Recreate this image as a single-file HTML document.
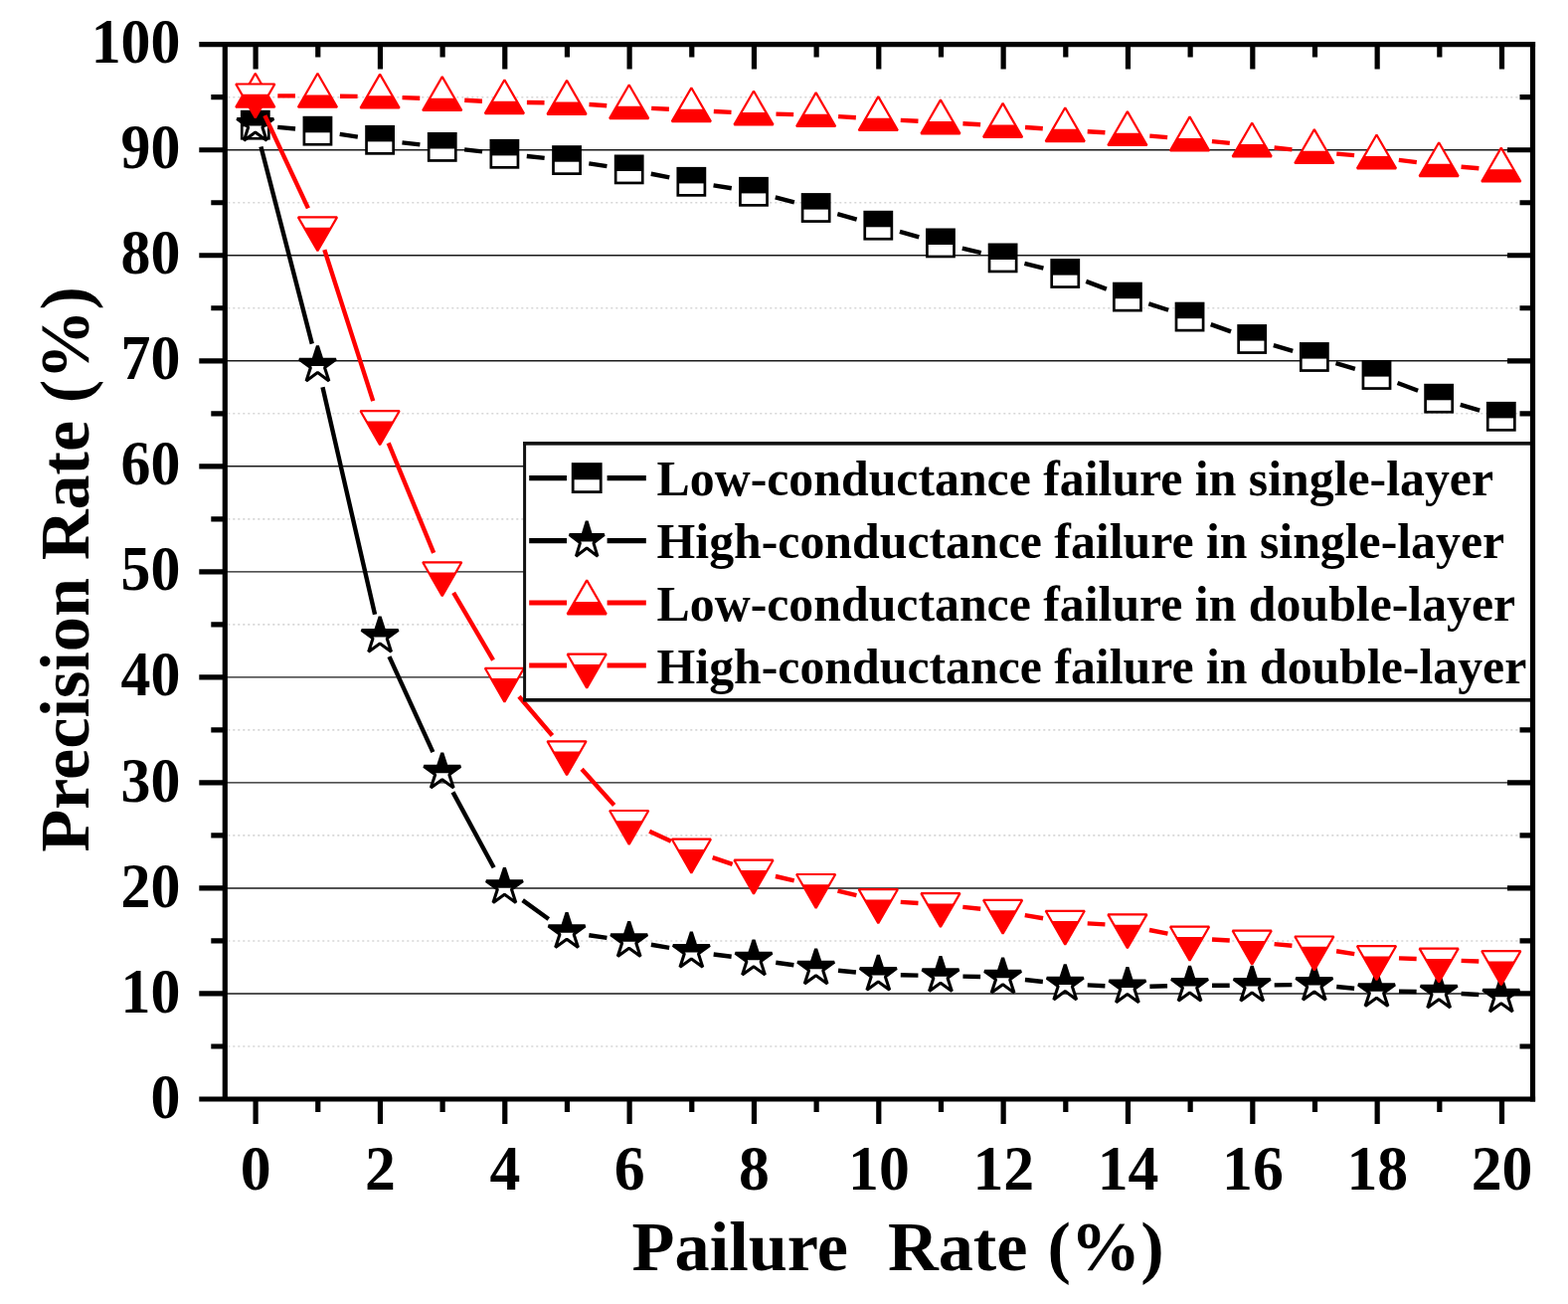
<!DOCTYPE html>
<html lang="en"><head><meta charset="utf-8"><title>Precision Rate vs Pailure Rate</title>
<style>html,body{margin:0;padding:0;background:#fff}svg{display:block}</style>
</head><body>
<svg width="1577" height="1311" viewBox="0 0 1577 1311" font-family="'Liberation Serif', 'Times New Roman', serif" font-weight="bold">
<rect width="1577" height="1311" fill="#fff"/>
<g stroke="#d6d6d6" stroke-width="1.6" stroke-dasharray="2 3" fill="none">
<line x1="229.3" y1="1051.98" x2="1538.5" y2="1051.98"/>
<line x1="229.3" y1="945.96" x2="1538.5" y2="945.96"/>
<line x1="229.3" y1="839.92" x2="1538.5" y2="839.92"/>
<line x1="229.3" y1="733.89" x2="1538.5" y2="733.89"/>
<line x1="229.3" y1="627.87" x2="1538.5" y2="627.87"/>
<line x1="229.3" y1="521.84" x2="1538.5" y2="521.84"/>
<line x1="229.3" y1="415.8" x2="1538.5" y2="415.8"/>
<line x1="229.3" y1="309.77" x2="1538.5" y2="309.77"/>
<line x1="229.3" y1="203.75" x2="1538.5" y2="203.75"/>
<line x1="229.3" y1="97.72" x2="1538.5" y2="97.72"/>
</g>
<g stroke="#1a1a1a" stroke-width="1.4" fill="none">
<line x1="226.3" y1="998.97" x2="1541.5" y2="998.97"/>
<line x1="226.3" y1="892.94" x2="1541.5" y2="892.94"/>
<line x1="226.3" y1="786.91" x2="1541.5" y2="786.91"/>
<line x1="226.3" y1="680.88" x2="1541.5" y2="680.88"/>
<line x1="226.3" y1="574.85" x2="1541.5" y2="574.85"/>
<line x1="226.3" y1="468.82" x2="1541.5" y2="468.82"/>
<line x1="226.3" y1="362.79" x2="1541.5" y2="362.79"/>
<line x1="226.3" y1="256.76" x2="1541.5" y2="256.76"/>
<line x1="226.3" y1="150.73" x2="1541.5" y2="150.73"/>
</g>
<g id="s1">
<path d="M279.2 127.85L297.05 129.55M341.72 134.93L359.83 137.57M404.46 143.33L422.39 145.37M467.11 150.36L485.04 152.34M529.79 157.05L547.66 158.85M592.31 164.4L610.44 167.1M654.77 174.77L673.28 178.43M717.57 186.35L735.78 189.25M779.78 198.43L798.87 203.37M842.3 215.12L861.65 220.58M904.95 232.82L924.3 238.28M967.83 249.64L986.72 254.16M1030.43 264.84L1049.42 269.56M1092.31 282.93L1112.84 290.67M1155.33 305.44L1175.12 311.76M1217.74 326.18L1238.01 333.42M1280.83 347.21L1300.22 352.79M1343.48 365.21L1362.87 370.79M1405.54 384.96L1426.11 392.74M1468.77 406.94L1488.18 412.56" fill="none" stroke="#000" stroke-width="4.4"/>
<rect x="243.25" y="112.15" width="27.1" height="27.1" fill="#fff" stroke="#000" stroke-width="2.7"/><rect x="243.25" y="112.15" width="27.1" height="15.15" fill="#000"/><rect x="305.9" y="118.15" width="27.1" height="27.1" fill="#fff" stroke="#000" stroke-width="2.7"/><rect x="305.9" y="118.15" width="27.1" height="15.15" fill="#000"/><rect x="368.55" y="127.25" width="27.1" height="27.1" fill="#fff" stroke="#000" stroke-width="2.7"/><rect x="368.55" y="127.25" width="27.1" height="15.15" fill="#000"/><rect x="431.2" y="134.35" width="27.1" height="27.1" fill="#fff" stroke="#000" stroke-width="2.7"/><rect x="431.2" y="134.35" width="27.1" height="15.15" fill="#000"/><rect x="493.85" y="141.25" width="27.1" height="27.1" fill="#fff" stroke="#000" stroke-width="2.7"/><rect x="493.85" y="141.25" width="27.1" height="15.15" fill="#000"/><rect x="556.5" y="147.55" width="27.1" height="27.1" fill="#fff" stroke="#000" stroke-width="2.7"/><rect x="556.5" y="147.55" width="27.1" height="15.15" fill="#000"/><rect x="619.15" y="156.85" width="27.1" height="27.1" fill="#fff" stroke="#000" stroke-width="2.7"/><rect x="619.15" y="156.85" width="27.1" height="15.15" fill="#000"/><rect x="681.8" y="169.25" width="27.1" height="27.1" fill="#fff" stroke="#000" stroke-width="2.7"/><rect x="681.8" y="169.25" width="27.1" height="15.15" fill="#000"/><rect x="744.45" y="179.25" width="27.1" height="27.1" fill="#fff" stroke="#000" stroke-width="2.7"/><rect x="744.45" y="179.25" width="27.1" height="15.15" fill="#000"/><rect x="807.1" y="195.45" width="27.1" height="27.1" fill="#fff" stroke="#000" stroke-width="2.7"/><rect x="807.1" y="195.45" width="27.1" height="15.15" fill="#000"/><rect x="869.75" y="213.15" width="27.1" height="27.1" fill="#fff" stroke="#000" stroke-width="2.7"/><rect x="869.75" y="213.15" width="27.1" height="15.15" fill="#000"/><rect x="932.4" y="230.85" width="27.1" height="27.1" fill="#fff" stroke="#000" stroke-width="2.7"/><rect x="932.4" y="230.85" width="27.1" height="15.15" fill="#000"/><rect x="995.05" y="245.85" width="27.1" height="27.1" fill="#fff" stroke="#000" stroke-width="2.7"/><rect x="995.05" y="245.85" width="27.1" height="15.15" fill="#000"/><rect x="1057.7" y="261.45" width="27.1" height="27.1" fill="#fff" stroke="#000" stroke-width="2.7"/><rect x="1057.7" y="261.45" width="27.1" height="15.15" fill="#000"/><rect x="1120.35" y="285.05" width="27.1" height="27.1" fill="#fff" stroke="#000" stroke-width="2.7"/><rect x="1120.35" y="285.05" width="27.1" height="15.15" fill="#000"/><rect x="1183" y="305.05" width="27.1" height="27.1" fill="#fff" stroke="#000" stroke-width="2.7"/><rect x="1183" y="305.05" width="27.1" height="15.15" fill="#000"/><rect x="1245.65" y="327.45" width="27.1" height="27.1" fill="#fff" stroke="#000" stroke-width="2.7"/><rect x="1245.65" y="327.45" width="27.1" height="15.15" fill="#000"/><rect x="1308.3" y="345.45" width="27.1" height="27.1" fill="#fff" stroke="#000" stroke-width="2.7"/><rect x="1308.3" y="345.45" width="27.1" height="15.15" fill="#000"/><rect x="1370.95" y="363.45" width="27.1" height="27.1" fill="#fff" stroke="#000" stroke-width="2.7"/><rect x="1370.95" y="363.45" width="27.1" height="15.15" fill="#000"/><rect x="1433.6" y="387.15" width="27.1" height="27.1" fill="#fff" stroke="#000" stroke-width="2.7"/><rect x="1433.6" y="387.15" width="27.1" height="15.15" fill="#000"/><rect x="1496.25" y="405.25" width="27.1" height="27.1" fill="#fff" stroke="#000" stroke-width="2.7"/><rect x="1496.25" y="405.25" width="27.1" height="15.15" fill="#000"/>
</g>
<g id="s2">
<path d="M262.45 147.48L313.8 345.62M324.49 389.33L377.06 617.77M391.46 660.16L435.39 756.14M455.49 796.37L496.66 872.23M525.66 905.15L551.79 923.95M592.33 940.26L610.42 942.84M654.88 949.79L673.17 952.91M717.68 959.48L735.67 961.72M780.27 967.7L798.38 970.3M843.04 975.75L860.91 977.55M905.8 980.27L923.45 980.63M968.44 981.64L986.11 982.06M1030.97 985.03L1048.88 986.97M1093.73 990.4L1111.42 991.2M1156.39 991.7L1174.06 991.3M1219.05 990.8L1236.7 990.8M1281.7 990.41L1299.35 990.09M1344.23 991.99L1362.12 993.81M1406.99 996.6L1424.66 997M1469.6 998.93L1487.35 1000.07" fill="none" stroke="#000" stroke-width="4.4"/>
<path d="M256.8 106.1L261.16 119.5L275.25 119.51L263.85 127.79L268.2 141.19L256.8 132.91L245.4 141.19L249.75 127.79L238.35 119.51L252.44 119.5Z" fill="#fff" stroke="#000" stroke-width="3.1" stroke-linejoin="bevel"/><path d="M256.8 106.1L261.16 119.5L275.25 119.51L265.76 126.4L247.84 126.4L238.35 119.51L252.44 119.5Z" fill="#000"/><path d="M319.45 347.8L323.81 361.2L337.9 361.21L326.5 369.49L330.85 382.89L319.45 374.61L308.05 382.89L312.4 369.49L301 361.21L315.09 361.2Z" fill="#fff" stroke="#000" stroke-width="3.1" stroke-linejoin="bevel"/><path d="M319.45 347.8L323.81 361.2L337.9 361.21L328.41 368.1L310.49 368.1L301 361.21L315.09 361.2Z" fill="#000"/><path d="M382.1 620.1L386.46 633.5L400.55 633.51L389.15 641.79L393.5 655.19L382.1 646.91L370.7 655.19L375.05 641.79L363.65 633.51L377.74 633.5Z" fill="#fff" stroke="#000" stroke-width="3.1" stroke-linejoin="bevel"/><path d="M382.1 620.1L386.46 633.5L400.55 633.51L391.06 640.4L373.14 640.4L363.65 633.51L377.74 633.5Z" fill="#000"/><path d="M444.75 757L449.11 770.4L463.2 770.41L451.8 778.69L456.15 792.09L444.75 783.81L433.35 792.09L437.7 778.69L426.3 770.41L440.39 770.4Z" fill="#fff" stroke="#000" stroke-width="3.1" stroke-linejoin="bevel"/><path d="M444.75 757L449.11 770.4L463.2 770.41L453.71 777.3L435.79 777.3L426.3 770.41L440.39 770.4Z" fill="#000"/><path d="M507.4 872.4L511.76 885.8L525.85 885.81L514.45 894.09L518.8 907.49L507.4 899.21L496 907.49L500.35 894.09L488.95 885.81L503.04 885.8Z" fill="#fff" stroke="#000" stroke-width="3.1" stroke-linejoin="bevel"/><path d="M507.4 872.4L511.76 885.8L525.85 885.81L516.36 892.7L498.44 892.7L488.95 885.81L503.04 885.8Z" fill="#000"/><path d="M570.05 917.5L574.41 930.9L588.5 930.91L577.1 939.19L581.45 952.59L570.05 944.31L558.65 952.59L563 939.19L551.6 930.91L565.69 930.9Z" fill="#fff" stroke="#000" stroke-width="3.1" stroke-linejoin="bevel"/><path d="M570.05 917.5L574.41 930.9L588.5 930.91L579.01 937.8L561.09 937.8L551.6 930.91L565.69 930.9Z" fill="#000"/><path d="M632.7 926.4L637.06 939.8L651.15 939.81L639.75 948.09L644.1 961.49L632.7 953.21L621.3 961.49L625.65 948.09L614.25 939.81L628.34 939.8Z" fill="#fff" stroke="#000" stroke-width="3.1" stroke-linejoin="bevel"/><path d="M632.7 926.4L637.06 939.8L651.15 939.81L641.66 946.7L623.74 946.7L614.25 939.81L628.34 939.8Z" fill="#000"/><path d="M695.35 937.1L699.71 950.5L713.8 950.51L702.4 958.79L706.75 972.19L695.35 963.91L683.95 972.19L688.3 958.79L676.9 950.51L690.99 950.5Z" fill="#fff" stroke="#000" stroke-width="3.1" stroke-linejoin="bevel"/><path d="M695.35 937.1L699.71 950.5L713.8 950.51L704.31 957.4L686.39 957.4L676.9 950.51L690.99 950.5Z" fill="#000"/><path d="M758 944.9L762.36 958.3L776.45 958.31L765.05 966.59L769.4 979.99L758 971.71L746.6 979.99L750.95 966.59L739.55 958.31L753.64 958.3Z" fill="#fff" stroke="#000" stroke-width="3.1" stroke-linejoin="bevel"/><path d="M758 944.9L762.36 958.3L776.45 958.31L766.96 965.2L749.04 965.2L739.55 958.31L753.64 958.3Z" fill="#000"/><path d="M820.65 953.9L825.01 967.3L839.1 967.31L827.7 975.59L832.05 988.99L820.65 980.71L809.25 988.99L813.6 975.59L802.2 967.31L816.29 967.3Z" fill="#fff" stroke="#000" stroke-width="3.1" stroke-linejoin="bevel"/><path d="M820.65 953.9L825.01 967.3L839.1 967.31L829.61 974.2L811.69 974.2L802.2 967.31L816.29 967.3Z" fill="#000"/><path d="M883.3 960.2L887.66 973.6L901.75 973.61L890.35 981.89L894.7 995.29L883.3 987.01L871.9 995.29L876.25 981.89L864.85 973.61L878.94 973.6Z" fill="#fff" stroke="#000" stroke-width="3.1" stroke-linejoin="bevel"/><path d="M883.3 960.2L887.66 973.6L901.75 973.61L892.26 980.5L874.34 980.5L864.85 973.61L878.94 973.6Z" fill="#000"/><path d="M945.95 961.5L950.31 974.9L964.4 974.91L953 983.19L957.35 996.59L945.95 988.31L934.55 996.59L938.9 983.19L927.5 974.91L941.59 974.9Z" fill="#fff" stroke="#000" stroke-width="3.1" stroke-linejoin="bevel"/><path d="M945.95 961.5L950.31 974.9L964.4 974.91L954.91 981.8L936.99 981.8L927.5 974.91L941.59 974.9Z" fill="#000"/><path d="M1008.6 963L1012.96 976.4L1027.05 976.41L1015.65 984.69L1020 998.09L1008.6 989.81L997.2 998.09L1001.55 984.69L990.15 976.41L1004.24 976.4Z" fill="#fff" stroke="#000" stroke-width="3.1" stroke-linejoin="bevel"/><path d="M1008.6 963L1012.96 976.4L1027.05 976.41L1017.56 983.3L999.64 983.3L990.15 976.41L1004.24 976.4Z" fill="#000"/><path d="M1071.25 969.8L1075.61 983.2L1089.7 983.21L1078.3 991.49L1082.65 1004.89L1071.25 996.61L1059.85 1004.89L1064.2 991.49L1052.8 983.21L1066.89 983.2Z" fill="#fff" stroke="#000" stroke-width="3.1" stroke-linejoin="bevel"/><path d="M1071.25 969.8L1075.61 983.2L1089.7 983.21L1080.21 990.1L1062.29 990.1L1052.8 983.21L1066.89 983.2Z" fill="#000"/><path d="M1133.9 972.6L1138.26 986L1152.35 986.01L1140.95 994.29L1145.3 1007.69L1133.9 999.41L1122.5 1007.69L1126.85 994.29L1115.45 986.01L1129.54 986Z" fill="#fff" stroke="#000" stroke-width="3.1" stroke-linejoin="bevel"/><path d="M1133.9 972.6L1138.26 986L1152.35 986.01L1142.86 992.9L1124.94 992.9L1115.45 986.01L1129.54 986Z" fill="#000"/><path d="M1196.55 971.2L1200.91 984.6L1215 984.61L1203.6 992.89L1207.95 1006.29L1196.55 998.01L1185.15 1006.29L1189.5 992.89L1178.1 984.61L1192.19 984.6Z" fill="#fff" stroke="#000" stroke-width="3.1" stroke-linejoin="bevel"/><path d="M1196.55 971.2L1200.91 984.6L1215 984.61L1205.51 991.5L1187.59 991.5L1178.1 984.61L1192.19 984.6Z" fill="#000"/><path d="M1259.2 971.2L1263.56 984.6L1277.65 984.61L1266.25 992.89L1270.6 1006.29L1259.2 998.01L1247.8 1006.29L1252.15 992.89L1240.75 984.61L1254.84 984.6Z" fill="#fff" stroke="#000" stroke-width="3.1" stroke-linejoin="bevel"/><path d="M1259.2 971.2L1263.56 984.6L1277.65 984.61L1268.16 991.5L1250.24 991.5L1240.75 984.61L1254.84 984.6Z" fill="#000"/><path d="M1321.85 970.1L1326.21 983.5L1340.3 983.51L1328.9 991.79L1333.25 1005.19L1321.85 996.91L1310.45 1005.19L1314.8 991.79L1303.4 983.51L1317.49 983.5Z" fill="#fff" stroke="#000" stroke-width="3.1" stroke-linejoin="bevel"/><path d="M1321.85 970.1L1326.21 983.5L1340.3 983.51L1330.81 990.4L1312.89 990.4L1303.4 983.51L1317.49 983.5Z" fill="#000"/><path d="M1384.5 976.5L1388.86 989.9L1402.95 989.91L1391.55 998.19L1395.9 1011.59L1384.5 1003.31L1373.1 1011.59L1377.45 998.19L1366.05 989.91L1380.14 989.9Z" fill="#fff" stroke="#000" stroke-width="3.1" stroke-linejoin="bevel"/><path d="M1384.5 976.5L1388.86 989.9L1402.95 989.91L1393.46 996.8L1375.54 996.8L1366.05 989.91L1380.14 989.9Z" fill="#000"/><path d="M1447.15 977.9L1451.51 991.3L1465.6 991.31L1454.2 999.59L1458.55 1012.99L1447.15 1004.71L1435.75 1012.99L1440.1 999.59L1428.7 991.31L1442.79 991.3Z" fill="#fff" stroke="#000" stroke-width="3.1" stroke-linejoin="bevel"/><path d="M1447.15 977.9L1451.51 991.3L1465.6 991.31L1456.11 998.2L1438.19 998.2L1428.7 991.31L1442.79 991.3Z" fill="#000"/><path d="M1509.8 981.9L1514.16 995.3L1528.25 995.31L1516.85 1003.59L1521.2 1016.99L1509.8 1008.71L1498.4 1016.99L1502.75 1003.59L1491.35 995.31L1505.44 995.3Z" fill="#fff" stroke="#000" stroke-width="3.1" stroke-linejoin="bevel"/><path d="M1509.8 981.9L1514.16 995.3L1528.25 995.31L1518.76 1002.2L1500.84 1002.2L1491.35 995.31L1505.44 995.3Z" fill="#000"/>
</g>
<g id="s3">
<path d="M279.3 96.4L296.95 96.4M341.95 96.69L359.6 96.91M404.58 98.1L422.27 98.8M467.22 100.81L484.93 101.69M529.9 103.05L547.55 103.25M592.5 105.04L610.25 106.26M655.17 108.88L672.88 109.72M717.82 111.98L735.53 112.92M780.49 114.67L798.16 115.13M843.1 117.13L860.85 118.27M905.77 120.88L923.48 121.82M968.41 124.26L986.14 125.24M1031.05 128.04L1048.8 129.26M1093.71 132.2L1111.44 133.3M1156.32 136.6L1174.13 138.1M1218.94 142.18L1236.81 143.92M1281.58 148.46L1299.47 150.34M1344.27 154.63L1362.08 156.17M1406.83 160.84L1424.82 163.06M1469.57 167.73L1487.38 169.27" fill="none" stroke="#f00" stroke-width="4.4"/>
<path d="M256.8 73.8L237.23 107.7L276.37 107.7Z" fill="#fff" stroke="#f00" stroke-width="2.2" stroke-linejoin="bevel"/><path d="M244.33 95.4L269.27 95.4L276.37 107.7L237.23 107.7Z" fill="#f00"/><path d="M319.45 73.8L299.88 107.7L339.02 107.7Z" fill="#fff" stroke="#f00" stroke-width="2.2" stroke-linejoin="bevel"/><path d="M306.98 95.4L331.92 95.4L339.02 107.7L299.88 107.7Z" fill="#f00"/><path d="M382.1 74.6L362.53 108.5L401.67 108.5Z" fill="#fff" stroke="#f00" stroke-width="2.2" stroke-linejoin="bevel"/><path d="M369.63 96.2L394.57 96.2L401.67 108.5L362.53 108.5Z" fill="#f00"/><path d="M444.75 77.1L425.18 111L464.32 111Z" fill="#fff" stroke="#f00" stroke-width="2.2" stroke-linejoin="bevel"/><path d="M432.28 98.7L457.22 98.7L464.32 111L425.18 111Z" fill="#f00"/><path d="M507.4 80.2L487.83 114.1L526.97 114.1Z" fill="#fff" stroke="#f00" stroke-width="2.2" stroke-linejoin="bevel"/><path d="M494.93 101.8L519.87 101.8L526.97 114.1L487.83 114.1Z" fill="#f00"/><path d="M570.05 80.9L550.48 114.8L589.62 114.8Z" fill="#fff" stroke="#f00" stroke-width="2.2" stroke-linejoin="bevel"/><path d="M557.58 102.5L582.52 102.5L589.62 114.8L550.48 114.8Z" fill="#f00"/><path d="M632.7 85.2L613.13 119.1L652.27 119.1Z" fill="#fff" stroke="#f00" stroke-width="2.2" stroke-linejoin="bevel"/><path d="M620.23 106.8L645.17 106.8L652.27 119.1L613.13 119.1Z" fill="#f00"/><path d="M695.35 88.2L675.78 122.1L714.92 122.1Z" fill="#fff" stroke="#f00" stroke-width="2.2" stroke-linejoin="bevel"/><path d="M682.88 109.8L707.82 109.8L714.92 122.1L675.78 122.1Z" fill="#f00"/><path d="M758 91.5L738.43 125.4L777.57 125.4Z" fill="#fff" stroke="#f00" stroke-width="2.2" stroke-linejoin="bevel"/><path d="M745.53 113.1L770.47 113.1L777.57 125.4L738.43 125.4Z" fill="#f00"/><path d="M820.65 93.1L801.08 127L840.22 127Z" fill="#fff" stroke="#f00" stroke-width="2.2" stroke-linejoin="bevel"/><path d="M808.18 114.7L833.12 114.7L840.22 127L801.08 127Z" fill="#f00"/><path d="M883.3 97.1L863.73 131L902.87 131Z" fill="#fff" stroke="#f00" stroke-width="2.2" stroke-linejoin="bevel"/><path d="M870.83 118.7L895.77 118.7L902.87 131L863.73 131Z" fill="#f00"/><path d="M945.95 100.4L926.38 134.3L965.52 134.3Z" fill="#fff" stroke="#f00" stroke-width="2.2" stroke-linejoin="bevel"/><path d="M933.48 122L958.42 122L965.52 134.3L926.38 134.3Z" fill="#f00"/><path d="M1008.6 103.9L989.03 137.8L1028.17 137.8Z" fill="#fff" stroke="#f00" stroke-width="2.2" stroke-linejoin="bevel"/><path d="M996.13 125.5L1021.07 125.5L1028.17 137.8L989.03 137.8Z" fill="#f00"/><path d="M1071.25 108.2L1051.68 142.1L1090.82 142.1Z" fill="#fff" stroke="#f00" stroke-width="2.2" stroke-linejoin="bevel"/><path d="M1058.78 129.8L1083.72 129.8L1090.82 142.1L1051.68 142.1Z" fill="#f00"/><path d="M1133.9 112.1L1114.33 146L1153.47 146Z" fill="#fff" stroke="#f00" stroke-width="2.2" stroke-linejoin="bevel"/><path d="M1121.43 133.7L1146.37 133.7L1153.47 146L1114.33 146Z" fill="#f00"/><path d="M1196.55 117.4L1176.98 151.3L1216.12 151.3Z" fill="#fff" stroke="#f00" stroke-width="2.2" stroke-linejoin="bevel"/><path d="M1184.08 139L1209.02 139L1216.12 151.3L1176.98 151.3Z" fill="#f00"/><path d="M1259.2 123.5L1239.63 157.4L1278.77 157.4Z" fill="#fff" stroke="#f00" stroke-width="2.2" stroke-linejoin="bevel"/><path d="M1246.73 145.1L1271.67 145.1L1278.77 157.4L1239.63 157.4Z" fill="#f00"/><path d="M1321.85 130.1L1302.28 164L1341.42 164Z" fill="#fff" stroke="#f00" stroke-width="2.2" stroke-linejoin="bevel"/><path d="M1309.38 151.7L1334.32 151.7L1341.42 164L1302.28 164Z" fill="#f00"/><path d="M1384.5 135.5L1364.93 169.4L1404.07 169.4Z" fill="#fff" stroke="#f00" stroke-width="2.2" stroke-linejoin="bevel"/><path d="M1372.03 157.1L1396.97 157.1L1404.07 169.4L1364.93 169.4Z" fill="#f00"/><path d="M1447.15 143.2L1427.58 177.1L1466.72 177.1Z" fill="#fff" stroke="#f00" stroke-width="2.2" stroke-linejoin="bevel"/><path d="M1434.68 164.8L1459.62 164.8L1466.72 177.1L1427.58 177.1Z" fill="#f00"/><path d="M1509.8 148.6L1490.23 182.5L1529.37 182.5Z" fill="#fff" stroke="#f00" stroke-width="2.2" stroke-linejoin="bevel"/><path d="M1497.33 170.2L1522.27 170.2L1529.37 182.5L1490.23 182.5Z" fill="#f00"/>
</g>
<g id="s4">
<path d="M266.34 116.18L309.91 209.32M326.34 251.12L375.21 403.08M390.67 445.3L436.18 555.8M456.16 595.99L495.99 663.71M522 700.22L555.45 739.48M585.09 773.33L617.66 809.57M653.16 835.67L674.89 845.63M716.68 862.15L736.67 868.85M779.94 881.01L798.71 885.29M842.52 895.6L861.43 900.2M905.76 906.9L923.49 908M968.32 911.83L986.23 913.77M1030.77 920.06L1049.08 923.24M1093.71 928.39L1111.44 929.41M1155.98 935.03L1174.47 938.67M1219 944.43L1236.75 945.57M1281.6 949.07L1299.45 950.73M1344.09 956.24L1362.26 959.06M1406.98 963.36L1424.67 964.04M1469.63 965.83L1487.32 966.57" fill="none" stroke="#f00" stroke-width="4.4"/>
<path d="M256.8 118.4L237.23 84.5L276.37 84.5Z" fill="#fff" stroke="#f00" stroke-width="2.2" stroke-linejoin="bevel"/><path d="M243.17 94.8L270.43 94.8L256.8 118.4Z" fill="#f00"/><path d="M319.45 252.3L299.88 218.4L339.02 218.4Z" fill="#fff" stroke="#f00" stroke-width="2.2" stroke-linejoin="bevel"/><path d="M305.82 228.7L333.08 228.7L319.45 252.3Z" fill="#f00"/><path d="M382.1 447.1L362.53 413.2L401.67 413.2Z" fill="#fff" stroke="#f00" stroke-width="2.2" stroke-linejoin="bevel"/><path d="M368.47 423.5L395.73 423.5L382.1 447.1Z" fill="#f00"/><path d="M444.75 599.2L425.18 565.3L464.32 565.3Z" fill="#fff" stroke="#f00" stroke-width="2.2" stroke-linejoin="bevel"/><path d="M431.12 575.6L458.38 575.6L444.75 599.2Z" fill="#f00"/><path d="M507.4 705.7L487.83 671.8L526.97 671.8Z" fill="#fff" stroke="#f00" stroke-width="2.2" stroke-linejoin="bevel"/><path d="M493.77 682.1L521.03 682.1L507.4 705.7Z" fill="#f00"/><path d="M570.05 779.2L550.48 745.3L589.62 745.3Z" fill="#fff" stroke="#f00" stroke-width="2.2" stroke-linejoin="bevel"/><path d="M556.42 755.6L583.68 755.6L570.05 779.2Z" fill="#f00"/><path d="M632.7 848.9L613.13 815L652.27 815Z" fill="#fff" stroke="#f00" stroke-width="2.2" stroke-linejoin="bevel"/><path d="M619.07 825.3L646.33 825.3L632.7 848.9Z" fill="#f00"/><path d="M695.35 877.6L675.78 843.7L714.92 843.7Z" fill="#fff" stroke="#f00" stroke-width="2.2" stroke-linejoin="bevel"/><path d="M681.72 854L708.98 854L695.35 877.6Z" fill="#f00"/><path d="M758 898.6L738.43 864.7L777.57 864.7Z" fill="#fff" stroke="#f00" stroke-width="2.2" stroke-linejoin="bevel"/><path d="M744.37 875L771.63 875L758 898.6Z" fill="#f00"/><path d="M820.65 912.9L801.08 879L840.22 879Z" fill="#fff" stroke="#f00" stroke-width="2.2" stroke-linejoin="bevel"/><path d="M807.02 889.3L834.28 889.3L820.65 912.9Z" fill="#f00"/><path d="M883.3 928.1L863.73 894.2L902.87 894.2Z" fill="#fff" stroke="#f00" stroke-width="2.2" stroke-linejoin="bevel"/><path d="M869.67 904.5L896.93 904.5L883.3 928.1Z" fill="#f00"/><path d="M945.95 932L926.38 898.1L965.52 898.1Z" fill="#fff" stroke="#f00" stroke-width="2.2" stroke-linejoin="bevel"/><path d="M932.32 908.4L959.58 908.4L945.95 932Z" fill="#f00"/><path d="M1008.6 938.8L989.03 904.9L1028.17 904.9Z" fill="#fff" stroke="#f00" stroke-width="2.2" stroke-linejoin="bevel"/><path d="M994.97 915.2L1022.23 915.2L1008.6 938.8Z" fill="#f00"/><path d="M1071.25 949.7L1051.68 915.8L1090.82 915.8Z" fill="#fff" stroke="#f00" stroke-width="2.2" stroke-linejoin="bevel"/><path d="M1057.62 926.1L1084.88 926.1L1071.25 949.7Z" fill="#f00"/><path d="M1133.9 953.3L1114.33 919.4L1153.47 919.4Z" fill="#fff" stroke="#f00" stroke-width="2.2" stroke-linejoin="bevel"/><path d="M1120.27 929.7L1147.53 929.7L1133.9 953.3Z" fill="#f00"/><path d="M1196.55 965.6L1176.98 931.7L1216.12 931.7Z" fill="#fff" stroke="#f00" stroke-width="2.2" stroke-linejoin="bevel"/><path d="M1182.92 942L1210.18 942L1196.55 965.6Z" fill="#f00"/><path d="M1259.2 969.6L1239.63 935.7L1278.77 935.7Z" fill="#fff" stroke="#f00" stroke-width="2.2" stroke-linejoin="bevel"/><path d="M1245.57 946L1272.83 946L1259.2 969.6Z" fill="#f00"/><path d="M1321.85 975.4L1302.28 941.5L1341.42 941.5Z" fill="#fff" stroke="#f00" stroke-width="2.2" stroke-linejoin="bevel"/><path d="M1308.22 951.8L1335.48 951.8L1321.85 975.4Z" fill="#f00"/><path d="M1384.5 985.1L1364.93 951.2L1404.07 951.2Z" fill="#fff" stroke="#f00" stroke-width="2.2" stroke-linejoin="bevel"/><path d="M1370.87 961.5L1398.13 961.5L1384.5 985.1Z" fill="#f00"/><path d="M1447.15 987.5L1427.58 953.6L1466.72 953.6Z" fill="#fff" stroke="#f00" stroke-width="2.2" stroke-linejoin="bevel"/><path d="M1433.52 963.9L1460.78 963.9L1447.15 987.5Z" fill="#f00"/><path d="M1509.8 990.1L1490.23 956.2L1529.37 956.2Z" fill="#fff" stroke="#f00" stroke-width="2.2" stroke-linejoin="bevel"/><path d="M1496.17 966.5L1523.43 966.5L1509.8 990.1Z" fill="#f00"/>
</g>
<g stroke="#000" stroke-width="5.2" fill="none" stroke-linecap="butt">
<path d="M200.3 44.7H1544.1"/>
<path d="M200.3 1105H1544.1"/>
<path d="M226.3 44.7V1105"/>
<path d="M212.3 1051.98H226.3M1528.5 1051.98H1541.5M200.3 998.97H226.3M1516 998.97H1541.5M212.3 945.96H226.3M1528.5 945.96H1541.5M200.3 892.94H226.3M1516 892.94H1541.5M212.3 839.92H226.3M1528.5 839.92H1541.5M200.3 786.91H226.3M1516 786.91H1541.5M212.3 733.89H226.3M1528.5 733.89H1541.5M200.3 680.88H226.3M1516 680.88H1541.5M212.3 627.87H226.3M1528.5 627.87H1541.5M200.3 574.85H226.3M1516 574.85H1541.5M212.3 521.84H226.3M1528.5 521.84H1541.5M200.3 468.82H226.3M1516 468.82H1541.5M212.3 415.8H226.3M1528.5 415.8H1541.5M200.3 362.79H226.3M1516 362.79H1541.5M212.3 309.77H226.3M1528.5 309.77H1541.5M200.3 256.76H226.3M1516 256.76H1541.5M212.3 203.75H226.3M1528.5 203.75H1541.5M200.3 150.73H226.3M1516 150.73H1541.5M212.3 97.72H226.3M1528.5 97.72H1541.5M257.1 1105V1130M257.1 44.7V69.5M319.77 1105V1118M319.77 44.7V57.4M382.44 1105V1130M382.44 44.7V69.5M445.11 1105V1118M445.11 44.7V57.4M507.78 1105V1130M507.78 44.7V69.5M570.45 1105V1118M570.45 44.7V57.4M633.12 1105V1130M633.12 44.7V69.5M695.79 1105V1118M695.79 44.7V57.4M758.46 1105V1130M758.46 44.7V69.5M821.13 1105V1118M821.13 44.7V57.4M883.8 1105V1130M883.8 44.7V69.5M946.47 1105V1118M946.47 44.7V57.4M1009.14 1105V1130M1009.14 44.7V69.5M1071.81 1105V1118M1071.81 44.7V57.4M1134.48 1105V1130M1134.48 44.7V69.5M1197.15 1105V1118M1197.15 44.7V57.4M1259.82 1105V1130M1259.82 44.7V69.5M1322.49 1105V1118M1322.49 44.7V57.4M1385.16 1105V1130M1385.16 44.7V69.5M1447.83 1105V1118M1447.83 44.7V57.4M1510.5 1105V1130M1510.5 44.7V69.5"/>
</g>
<rect x="527.6" y="445.8" width="1013.9" height="258" fill="#fff" stroke="#111" stroke-width="3"/>
<path d="M526.1 445.8H1541.5M526.1 703.8H1541.5" fill="none" stroke="#111" stroke-width="3.6"/>
<path d="M532.2 480.6H570M610.6 480.6H649.8" stroke="#000" stroke-width="5.2" fill="none"/>
<g transform="translate(590.2 480.6) scale(1.035) translate(-590.2 -480.6)"><rect x="576.65" y="467.05" width="27.1" height="27.1" fill="#fff" stroke="#000" stroke-width="2.7"/><rect x="576.65" y="467.05" width="27.1" height="15.15" fill="#000"/></g>
<text x="660.6" y="498" font-size="49.8" fill="#000">Low-conductance failure in single-layer</text>
<path d="M532.2 543.7H570M610.6 543.7H649.8" stroke="#000" stroke-width="5.2" fill="none"/>
<g transform="translate(590.1 0) scale(0.95 1) translate(-590.1 0)"><path d="M590.2 524.1L594.56 537.5L608.65 537.51L597.25 545.79L601.6 559.19L590.2 550.91L578.8 559.19L583.15 545.79L571.75 537.51L585.84 537.5Z" fill="#fff" stroke="#000" stroke-width="3.1" stroke-linejoin="bevel"/><path d="M590.2 524.1L594.56 537.5L608.65 537.51L599.16 544.4L581.24 544.4L571.75 537.51L585.84 537.5Z" fill="#000"/></g>
<text x="660.6" y="561" font-size="49.8" fill="#000">High-conductance failure in single-layer</text>
<path d="M532.2 606H570M610.6 606H649.8" stroke="#f00" stroke-width="5.2" fill="none"/>
<path d="M590.2 583.4L570.63 617.3L609.77 617.3Z" fill="#fff" stroke="#f00" stroke-width="2.2" stroke-linejoin="bevel"/><path d="M577.73 605L602.67 605L609.77 617.3L570.63 617.3Z" fill="#f00"/>
<text x="660.6" y="623.6" font-size="49.8" fill="#000">Low-conductance failure in double-layer</text>
<path d="M532.2 669H570M610.6 669H649.8" stroke="#f00" stroke-width="5.2" fill="none"/>
<path d="M590.2 691.6L570.63 657.7L609.77 657.7Z" fill="#fff" stroke="#f00" stroke-width="2.2" stroke-linejoin="bevel"/><path d="M576.57 668L603.83 668L590.2 691.6Z" fill="#f00"/>
<text x="660.6" y="686.6" font-size="49.8" fill="#000">High-conductance failure in double-layer</text>
<path d="M1541.5 42.1V1107.6" stroke="#000" stroke-width="5.2" fill="none"/>
<g font-size="63" fill="#000">
<text transform="translate(181.4 1123.6) scale(0.95 1)" text-anchor="end">0</text>
<text transform="translate(181.4 1017.57) scale(0.95 1)" text-anchor="end">10</text>
<text transform="translate(181.4 911.54) scale(0.95 1)" text-anchor="end">20</text>
<text transform="translate(181.4 805.51) scale(0.95 1)" text-anchor="end">30</text>
<text transform="translate(181.4 699.48) scale(0.95 1)" text-anchor="end">40</text>
<text transform="translate(181.4 593.45) scale(0.95 1)" text-anchor="end">50</text>
<text transform="translate(181.4 487.42) scale(0.95 1)" text-anchor="end">60</text>
<text transform="translate(181.4 381.39) scale(0.95 1)" text-anchor="end">70</text>
<text transform="translate(181.4 275.36) scale(0.95 1)" text-anchor="end">80</text>
<text transform="translate(181.4 169.33) scale(0.95 1)" text-anchor="end">90</text>
<text transform="translate(181.4 63.3) scale(0.95 1)" text-anchor="end">100</text>
<text transform="translate(257.2 1195.8) scale(0.98 1)" text-anchor="middle">0</text>
<text transform="translate(382.54 1195.8) scale(0.98 1)" text-anchor="middle">2</text>
<text transform="translate(507.88 1195.8) scale(0.98 1)" text-anchor="middle">4</text>
<text transform="translate(633.22 1195.8) scale(0.98 1)" text-anchor="middle">6</text>
<text transform="translate(758.56 1195.8) scale(0.98 1)" text-anchor="middle">8</text>
<text transform="translate(883.9 1195.8) scale(0.98 1)" text-anchor="middle">10</text>
<text transform="translate(1009.24 1195.8) scale(0.98 1)" text-anchor="middle">12</text>
<text transform="translate(1134.58 1195.8) scale(0.98 1)" text-anchor="middle">14</text>
<text transform="translate(1259.92 1195.8) scale(0.98 1)" text-anchor="middle">16</text>
<text transform="translate(1385.26 1195.8) scale(0.98 1)" text-anchor="middle">18</text>
<text transform="translate(1510.6 1195.8) scale(0.98 1)" text-anchor="middle">20</text>
</g>
<text transform="translate(88.6 572.5) rotate(-90)" font-size="70.3" text-anchor="middle" fill="#000">Precision Rate (%)</text>
<text x="903.1" y="1277.3" font-size="70.3" text-anchor="middle" fill="#000" word-spacing="2.4" xml:space="preserve" style="white-space:pre">Pailure  Rate (%)</text>
</svg>
</body></html>
